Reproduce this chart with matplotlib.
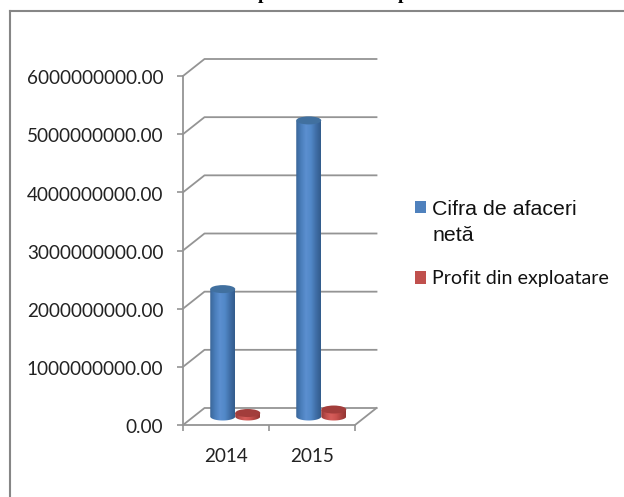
import numpy as np
import matplotlib
matplotlib.use("Agg")
import matplotlib.pyplot as plt
from matplotlib.patches import Ellipse, Rectangle, PathPatch
from matplotlib.path import Path
from matplotlib.colors import LinearSegmentedColormap
from matplotlib.transforms import ScaledTranslation

years = ["2014", "2015"]
turnover = [2.19e9, 5.09e9]
profit = [0.06e9, 0.12e9]
series_names = ["Cifra de afaceri\nnetă", "Profit din exploatare"]
y_ticks = [0, 1e9, 2e9, 3e9, 4e9, 5e9, 6e9]

W, H = 624, 497
fig = plt.figure(figsize=(W / 100, H / 100), dpi=100, facecolor="white")
X0, X1, Y0, Y1 = 183, 355, 425, 76
ax = fig.add_axes([X0 / W, 1 - Y0 / H, (X1 - X0) / W, (Y0 - Y1) / H])
ax.set_xlim(0, 2)
ax.set_ylim(0, 6e9)
ax.patch.set_alpha(0)
px_x = 2 / (X1 - X0)
px_y = 6e9 / (Y0 - Y1)
dx, dy = 21.5 * px_x, 17 * px_y
GRID = "#949494"

for s in ["top", "right"]:
    ax.spines[s].set_visible(False)
for s in ["left", "bottom"]:
    ax.spines[s].set_color(GRID)
    ax.spines[s].set_linewidth(1.3)
ax.set_yticks(y_ticks)
ax.set_yticklabels([f"{v:.2f}" for v in y_ticks], family="Lato", fontsize=13.6, color="#222222")
ax.set_xticks([0, 1, 2])
ax.set_xticklabels([])
ax.set_xticks([0.5, 1.5], minor=True)
ax.set_xticklabels(years, minor=True, family="Lato", fontsize=13.6, color="#222222")
ax.tick_params(axis="x", which="minor", length=0, pad=16.5)
ax.tick_params(axis="both", which="major", length=4.3, width=1.2, color=GRID)
ax.tick_params(axis="y", pad=10)
nudge = ScaledTranslation(0, -1.3 / 100, fig.dpi_scale_trans)
for tick in ax.yaxis.get_major_ticks():
    tick.label1.set_transform(tick.label1.get_transform() + nudge)

# walls and floor of the pseudo-3D chart
for v in y_ticks:
    ax.plot([0, dx, 2 + dx], [v, v + dy, v + dy], color=GRID, lw=1.3, clip_on=False, zorder=1)
ax.plot([2, 2 + dx], [0, dy], color=GRID, lw=1.3, clip_on=False, zorder=1)

blue = LinearSegmentedColormap.from_list("b", ["#3a6699", "#4a7ebb", "#5b8fd0", "#5288c8", "#406fa8", "#335c8c"])
red = LinearSegmentedColormap.from_list("r", ["#96393a", "#c0504d", "#d65e5b", "#cc5350", "#ad4340", "#933633"])
top_col = {"b": "#41709f", "r": "#a23d3b"}
grad = np.linspace(0, 1, 64).reshape(1, -1)
bw = 25 * px_x
eh = 8 * px_y
base = 8.5 * px_y


def cylinder(xc, val, cmap, top):
    y0, y1 = base, base + val
    l, r = xc - bw / 2, xc + bw / 2
    th = np.linspace(np.pi, 2 * np.pi, 40)
    low = np.c_[xc + bw / 2 * np.cos(th), y0 + eh / 2 * np.sin(th)]
    verts = np.vstack([low, [[r, y1]], [[l, y1]], low[:1]])
    codes = [Path.MOVETO] + [Path.LINETO] * (len(verts) - 2) + [Path.CLOSEPOLY]
    clip = PathPatch(Path(verts, codes), transform=ax.transData, fc="none", ec="none")
    ax.add_patch(clip)
    im = ax.imshow(grad, cmap=cmap, extent=[l, r, y0 - eh, y1], aspect="auto", zorder=3, clip_on=True)
    im.set_clip_path(clip)
    ax.add_patch(Ellipse((xc, y1), bw, eh, fc=top, ec="none", zorder=4, clip_on=False))


gap = 12.5 * px_x
for i in range(len(years)):
    c = i + 0.5 + dx / 2 - 1.5 * px_x
    cylinder(c - gap, turnover[i], blue, top_col["b"])
    cylinder(c + gap, profit[i], red, top_col["r"])
ax.set_xlim(0, 2)
ax.set_ylim(0, 6e9)

# legend
handles = [Rectangle((0, 0), 1, 1, fc="#4f81bd"), Rectangle((0, 0), 1, 1, fc="#c0504d")]
leg = ax.legend(handles, series_names, loc="upper left", bbox_to_anchor=(415 / W, 1 - 200 / H),
                bbox_transform=fig.transFigure, frameon=False, fontsize=14, handlelength=0.57,
                handleheight=0.6, handletextpad=0.31, labelspacing=1.31, borderpad=0, borderaxespad=0,
                labelcolor="#111111")
leg.get_texts()[0].set_family("Liberation Sans")
leg.get_texts()[0].set_fontsize(15.4)
leg.get_texts()[0].set_linespacing(1.45)
leg.get_texts()[1].set_family("Lato")
leg.get_texts()[1].set_fontsize(14.1)
leg.legend_handles[0].set_y(leg.legend_handles[0].get_y() + 11.5)

# chart frame: left and top edges only, the right side is outside the crop
for xs, ys in [([10, 10], [497, 11]), ([10, 624], [11, 11])]:
    fig.add_artist(plt.Line2D([x / W for x in xs], [1 - y / H for y in ys], color="#868686", lw=1.5))

# the heading above the frame is cut off by the image edge: only two descenders show
for x in (263, 403):
    fig.text(x / W, 1 + 1 / H, "p", family="Liberation Serif", weight="bold", fontsize=14,
             ha="center", va="baseline", color="black")

fig.savefig("out.png", dpi=100)
